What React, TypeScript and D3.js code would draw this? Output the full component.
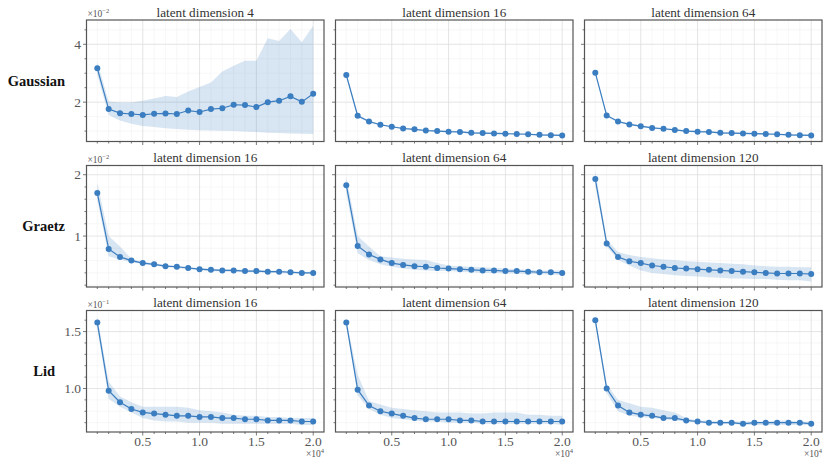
import React, { useRef, useEffect } from 'react';
import * as d3 from 'd3';

// training-set sizes on the x axis
const steps = [1000, 2000, 3000, 4000, 5000, 6000, 7000, 8000, 9000, 10000,
  11000, 12000, 13000, 14000, 15000, 16000, 17000, 18000, 19000, 20000];

const rowNames = ["Gaussian", "Graetz", "Lid"];
const rowExponents = [-2, -2, -1];
const panelTitles = [
  ["latent dimension 4", "latent dimension 16", "latent dimension 64"],
  ["latent dimension 16", "latent dimension 64", "latent dimension 120"],
  ["latent dimension 16", "latent dimension 64", "latent dimension 120"],
];
const xTickLabels = ["0.5", "1.0", "1.5", "2.0"];
const yTickLabels = [["2", "4"], ["1", "2"], ["1.0", "1.5"]];

// Gaussian (x 1e-2)
const gaussian4Mean = [3.17, 1.76, 1.62, 1.59, 1.56, 1.60, 1.61, 1.59, 1.71, 1.66, 1.76, 1.79, 1.91, 1.90, 1.83, 2.00, 2.05, 2.20, 2.01, 2.29];
const gaussian4Upper = [3.40, 2.02, 1.99, 1.99, 2.05, 2.13, 2.21, 2.18, 2.37, 2.52, 2.68, 3.06, 3.26, 3.43, 3.43, 4.21, 4.11, 4.53, 4.07, 4.64];
const gaussian4Lower = [2.94, 1.56, 1.37, 1.25, 1.18, 1.14, 1.10, 1.07, 1.05, 1.03, 1.02, 1.01, 1.00, 0.99, 0.97, 0.94, 0.93, 0.92, 0.91, 0.90];
const gaussian16Mean = [2.94, 1.53, 1.33, 1.22, 1.15, 1.09, 1.06, 1.02, 1.00, 0.98, 0.97, 0.94, 0.93, 0.92, 0.91, 0.90, 0.89, 0.87, 0.86, 0.85];
const gaussian16Upper = [2.98, 1.57, 1.37, 1.25, 1.18, 1.12, 1.09, 1.05, 1.03, 1.01, 1.00, 0.97, 0.96, 0.95, 0.94, 0.93, 0.92, 0.90, 0.89, 0.88];
const gaussian16Lower = [2.90, 1.49, 1.29, 1.19, 1.12, 1.06, 1.03, 0.99, 0.97, 0.95, 0.94, 0.91, 0.90, 0.89, 0.88, 0.87, 0.86, 0.84, 0.83, 0.82];
const gaussian64Mean = [3.02, 1.54, 1.33, 1.23, 1.17, 1.11, 1.08, 1.04, 1.00, 0.98, 0.97, 0.94, 0.93, 0.92, 0.91, 0.90, 0.89, 0.87, 0.86, 0.85];
const gaussian64Upper = [3.05, 1.58, 1.36, 1.26, 1.20, 1.14, 1.11, 1.07, 1.03, 1.01, 1.00, 0.97, 0.96, 0.95, 0.94, 0.93, 0.92, 0.90, 0.89, 0.88];
const gaussian64Lower = [2.99, 1.50, 1.30, 1.20, 1.14, 1.08, 1.05, 1.01, 0.97, 0.95, 0.94, 0.91, 0.90, 0.89, 0.88, 0.87, 0.86, 0.84, 0.83, 0.82];

// Graetz (x 1e-2)
const graetz16Mean = [1.70, 0.79, 0.66, 0.60, 0.56, 0.54, 0.51, 0.50, 0.48, 0.46, 0.45, 0.44, 0.44, 0.43, 0.43, 0.42, 0.42, 0.41, 0.40, 0.40];
const graetz16Upper = [1.87, 1.00, 0.83, 0.63, 0.58, 0.56, 0.53, 0.52, 0.50, 0.48, 0.47, 0.46, 0.46, 0.45, 0.45, 0.44, 0.44, 0.43, 0.42, 0.42];
const graetz16Lower = [1.59, 0.67, 0.62, 0.57, 0.55, 0.52, 0.49, 0.48, 0.46, 0.44, 0.43, 0.42, 0.42, 0.41, 0.41, 0.40, 0.40, 0.39, 0.38, 0.38];
const graetz64Mean = [1.83, 0.84, 0.70, 0.62, 0.56, 0.53, 0.51, 0.50, 0.48, 0.47, 0.46, 0.45, 0.44, 0.44, 0.43, 0.43, 0.42, 0.41, 0.41, 0.40];
const graetz64Upper = [1.97, 1.00, 0.83, 0.67, 0.65, 0.63, 0.62, 0.61, 0.56, 0.52, 0.51, 0.50, 0.49, 0.48, 0.47, 0.46, 0.45, 0.44, 0.44, 0.44];
const graetz64Lower = [1.70, 0.72, 0.61, 0.54, 0.50, 0.47, 0.45, 0.44, 0.43, 0.43, 0.42, 0.41, 0.40, 0.40, 0.39, 0.39, 0.38, 0.38, 0.37, 0.37];
const graetz120Mean = [1.93, 0.88, 0.66, 0.59, 0.56, 0.52, 0.50, 0.48, 0.47, 0.46, 0.45, 0.44, 0.43, 0.42, 0.41, 0.40, 0.39, 0.39, 0.39, 0.38];
const graetz120Upper = [2.07, 0.95, 0.74, 0.69, 0.66, 0.64, 0.62, 0.61, 0.59, 0.58, 0.57, 0.56, 0.55, 0.54, 0.52, 0.51, 0.50, 0.50, 0.49, 0.49];
const graetz120Lower = [1.81, 0.83, 0.61, 0.52, 0.44, 0.40, 0.38, 0.36, 0.35, 0.34, 0.33, 0.32, 0.31, 0.31, 0.30, 0.30, 0.29, 0.28, 0.28, 0.26];

// Lid (x 1e-1)
const lid16Mean = [1.58, 0.98, 0.88, 0.82, 0.79, 0.78, 0.77, 0.76, 0.76, 0.75, 0.75, 0.74, 0.74, 0.73, 0.73, 0.72, 0.72, 0.72, 0.71, 0.71];
const lid16Upper = [1.63, 1.06, 0.93, 0.88, 0.84, 0.84, 0.84, 0.84, 0.83, 0.81, 0.80, 0.79, 0.77, 0.76, 0.76, 0.75, 0.75, 0.74, 0.74, 0.74];
const lid16Lower = [1.53, 0.91, 0.84, 0.79, 0.74, 0.72, 0.71, 0.71, 0.70, 0.70, 0.70, 0.69, 0.69, 0.69, 0.69, 0.69, 0.69, 0.69, 0.68, 0.68];
const lid64Mean = [1.58, 0.99, 0.85, 0.80, 0.78, 0.76, 0.74, 0.73, 0.73, 0.73, 0.72, 0.72, 0.71, 0.71, 0.71, 0.71, 0.71, 0.71, 0.71, 0.71];
const lid64Upper = [1.60, 1.12, 0.89, 0.86, 0.83, 0.82, 0.81, 0.80, 0.79, 0.79, 0.79, 0.78, 0.78, 0.79, 0.79, 0.79, 0.77, 0.77, 0.76, 0.76];
const lid64Lower = [1.56, 0.94, 0.82, 0.77, 0.74, 0.73, 0.72, 0.71, 0.71, 0.70, 0.70, 0.70, 0.69, 0.69, 0.69, 0.69, 0.69, 0.69, 0.69, 0.68];
const lid120Mean = [1.60, 1.00, 0.85, 0.79, 0.77, 0.76, 0.74, 0.74, 0.72, 0.71, 0.70, 0.70, 0.70, 0.69, 0.70, 0.70, 0.70, 0.70, 0.70, 0.69];
const lid120Upper = [1.63, 1.04, 0.90, 0.87, 0.84, 0.83, 0.81, 0.79, 0.74, 0.72, 0.72, 0.71, 0.71, 0.71, 0.71, 0.71, 0.72, 0.72, 0.71, 0.71];
const lid120Lower = [1.56, 0.96, 0.80, 0.76, 0.75, 0.74, 0.73, 0.72, 0.71, 0.70, 0.69, 0.69, 0.69, 0.68, 0.68, 0.68, 0.68, 0.68, 0.68, 0.68];

const panels = [
  [[gaussian4Mean, gaussian4Upper, gaussian4Lower], [gaussian16Mean, gaussian16Upper, gaussian16Lower], [gaussian64Mean, gaussian64Upper, gaussian64Lower]],
  [[graetz16Mean, graetz16Upper, graetz16Lower], [graetz64Mean, graetz64Upper, graetz64Lower], [graetz120Mean, graetz120Upper, graetz120Lower]],
  [[lid16Mean, lid16Upper, lid16Lower], [lid64Mean, lid64Upper, lid64Lower], [lid120Mean, lid120Upper, lid120Lower]],
];

const App: React.FC = () => {
  const svgRef = useRef<SVGSVGElement | null>(null);

  useEffect(() => {
    const svg = d3.select(svgRef.current);
    svg.selectAll("*").remove();

    const width = 830;
    const height = 467;
    const colLeft = [86.5, 335.5, 584.5];
    const rowTop = [20, 165.5, 310.5];
    const panelW = 237.5;
    const panelH = 121.5;
    const blue = "#3a7dc0";
    const frame = "#555";
    const serif = "'Liberation Serif', 'Times New Roman', serif";

    svg.attr("width", width).attr("height", height)
      .style("font-family", serif);

    const yDomains = [[0.64, 4.84], [0.17, 2.15], [0.618, 1.685]];
    const yMinorStep = [0.5, 0.2, 0.1];
    const yMajor = [[2, 4], [1, 2], [1.0, 1.5]];
    const rowLabelRight = [65, 65, 55];

    const x = d3.scaleLinear().domain([50, 20950]).range([0, panelW]);
    const xMajor = [5000, 10000, 15000, 20000];

    panels.forEach((row, r) => {
      const y = d3.scaleLinear().domain(yDomains[r]).range([panelH, 0]);
      const [y0, y1] = yDomains[r];
      const yMinor = d3.range(Math.ceil(y0 / yMinorStep[r]) * yMinorStep[r], y1, yMinorStep[r])
        .filter(v => !yMajor[r].some(m => Math.abs(m - v) < 1e-6));

      // row label
      svg.append("text")
        .attr("x", rowLabelRight[r])
        .attr("y", rowTop[r] + panelH / 2)
        .attr("text-anchor", "end")
        .attr("dominant-baseline", "central")
        .attr("font-weight", "bold")
        .attr("font-size", 14.5)
        .attr("fill", "#111")
        .text(rowNames[r]);

      row.forEach((series, c) => {
        const [mean, upper, lower] = series;
        const g = svg.append("g")
          .attr("transform", `translate(${colLeft[c]},${rowTop[r]})`);

        // minor grid
        g.append("g").selectAll("line")
          .data(steps.filter(s => !xMajor.includes(s)))
          .join("line")
          .attr("x1", d => x(d)).attr("x2", d => x(d))
          .attr("y1", 0).attr("y2", panelH)
          .attr("stroke", "#f1f1f1").attr("stroke-width", 0.6);
        g.append("g").selectAll("line")
          .data(yMinor)
          .join("line")
          .attr("y1", d => y(d)).attr("y2", d => y(d))
          .attr("x1", 0).attr("x2", panelW)
          .attr("stroke", "#f1f1f1").attr("stroke-width", 0.6);
        // major grid
        g.append("g").selectAll("line")
          .data(xMajor)
          .join("line")
          .attr("x1", d => x(d)).attr("x2", d => x(d))
          .attr("y1", 0).attr("y2", panelH)
          .attr("stroke", "#dedede").attr("stroke-width", 0.8);
        g.append("g").selectAll("line")
          .data(yMajor[r])
          .join("line")
          .attr("y1", d => y(d)).attr("y2", d => y(d))
          .attr("x1", 0).attr("x2", panelW)
          .attr("stroke", "#dedede").attr("stroke-width", 0.8);

        // band
        const area = d3.area<number>()
          .x((_, i) => x(steps[i]))
          .y0((_, i) => y(lower[i]))
          .y1((_, i) => y(upper[i]));
        g.append("path")
          .datum(mean)
          .attr("d", area)
          .attr("fill", blue)
          .attr("fill-opacity", 0.2);

        // mean line + markers
        const line = d3.line<number>()
          .x((_, i) => x(steps[i]))
          .y(d => y(d));
        g.append("path")
          .datum(mean)
          .attr("d", line)
          .attr("fill", "none")
          .attr("stroke", blue)
          .attr("stroke-width", 1.2);
        g.append("g").selectAll("circle")
          .data(mean)
          .join("circle")
          .attr("cx", (_, i) => x(steps[i]))
          .attr("cy", d => y(d))
          .attr("r", 3)
          .attr("fill", blue);

        // frame
        g.append("rect")
          .attr("width", panelW).attr("height", panelH)
          .attr("fill", "none")
          .attr("stroke", frame).attr("stroke-width", 1.2);

        // x ticks
        g.append("g").selectAll("line")
          .data(steps)
          .join("line")
          .attr("x1", d => x(d)).attr("x2", d => x(d))
          .attr("y1", panelH)
          .attr("y2", d => panelH + (xMajor.includes(d) ? 3.5 : 2))
          .attr("stroke", frame).attr("stroke-width", 0.8);
        // y ticks
        g.append("g").selectAll("line")
          .data([...yMajor[r].map(v => ({ v, major: true })), ...yMinor.map(v => ({ v, major: false }))])
          .join("line")
          .attr("y1", d => y(d.v)).attr("y2", d => y(d.v))
          .attr("x1", 0)
          .attr("x2", d => d.major ? -3.5 : -2)
          .attr("stroke", frame).attr("stroke-width", 0.8);

        // title
        g.append("text")
          .attr("x", panelW / 2)
          .attr("y", -3.5)
          .attr("text-anchor", "middle")
          .attr("font-size", 13.2)
          .attr("fill", "#333")
          .text(panelTitles[r][c]);

        if (c === 0) {
          g.append("g").selectAll("text")
            .data(yMajor[r])
            .join("text")
            .attr("x", -5.5)
            .attr("y", d => y(d))
            .attr("dy", "0.35em")
            .attr("text-anchor", "end")
            .attr("font-size", 13.5)
            .attr("fill", "#555")
            .text((_, i) => yTickLabels[r][i]);
          const off = g.append("text")
            .attr("x", 1)
            .attr("y", -3)
            .attr("font-size", 9.5)
            .attr("fill", "#555");
          off.append("tspan").text("×10");
          off.append("tspan").attr("dy", -4).attr("font-size", 6.5).text(`−${-rowExponents[r]}`);
        }

        if (r === 2) {
          g.append("g").selectAll("text")
            .data(xMajor)
            .join("text")
            .attr("x", d => x(d))
            .attr("y", panelH + 14)
            .attr("text-anchor", "middle")
            .attr("font-size", 13.5)
            .attr("fill", "#555")
            .text((_, i) => xTickLabels[i]);
          const off = g.append("text")
            .attr("x", panelW)
            .attr("y", panelH + 25)
            .attr("text-anchor", "end")
            .attr("font-size", 9.5)
            .attr("fill", "#555");
          off.append("tspan").text("×10");
          off.append("tspan").attr("dy", -4).attr("font-size", 6.5).text("4");
        }
      });
    });
  }, []);

  return (
    <svg ref={svgRef} style={{ position: "absolute", left: 0, top: 0, background: "#fff" }}></svg>
  );
};

export default App;
